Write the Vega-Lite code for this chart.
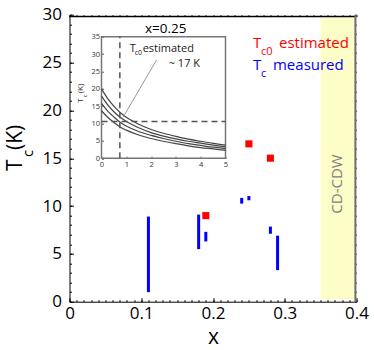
{
  "$schema": "https://vega.github.io/schema/vega-lite/v6.json",
  "width": 287,
  "height": 287,
  "autosize": {"type": "none"},
  "padding": {"left": 69.5, "top": 14.7, "right": 17.5, "bottom": 48.3},
  "background": "white",
  "config": {"view": {"stroke": null}, "font": "Open Sans", "axis": {"grid": false, "labelOverlap": false, "labelFlush": false, "labelBound": false}},
  "layer": [
    {
      "data": {"values": [{"x1": 0.35, "x2": 0.399, "y1": 0.25, "y2": 29.8}]},
      "mark": {"type": "rect", "fill": "#fdfdc8"},
      "encoding": {
        "x": {"field": "x1", "type": "quantitative", "scale": {"domain": [0, 0.4], "nice": false},
          "axis": {"orient": "top", "values": [0,0.01,0.02,0.03,0.04,0.05,0.06,0.07,0.08,0.09,0.1,0.11,0.12,0.13,0.14,0.15,0.16,0.17,0.18,0.19,0.2,0.21,0.22,0.23,0.24,0.25,0.26,0.27,0.28,0.29,0.3,0.31,0.32,0.33,0.34,0.35,0.36,0.37,0.38,0.39,0.4],
            "labels": false, "title": null, "domain": false, "tickColor": "black", "tickSize": -2}},
        "x2": {"field": "x2"},
        "y": {"field": "y1", "type": "quantitative", "scale": {"domain": [0, 30], "nice": false},
          "axis": {"orient": "right", "values": [0,1,2,3,4,5,6,7,8,9,10,11,12,13,14,15,16,17,18,19,20,21,22,23,24,25,26,27,28,29,30],
            "labels": false, "title": null, "domain": false, "tickColor": "#333333", "tickSize": -2}},
        "y2": {"field": "y2"}
      }
    },
    {
      "data": {"values": [
        {"x": 0.2557, "y": 26.52, "t": "T", "s": "est"},
        {"x": 0.292, "y": 26.52, "t": "estimated", "s": "est"},
        {"x": 0.2557, "y": 24.22, "t": "T", "s": "meas"},
        {"x": 0.2836, "y": 24.22, "t": "measured", "s": "meas"}
      ]},
      "mark": {"type": "text", "fontSize": 15, "align": "left", "baseline": "alphabetic"},
      "encoding": {
        "x": {"field": "x", "type": "quantitative", "scale": {"domain": [0, 0.4], "nice": false},
          "axis": {"orient": "bottom", "values": [0,0.01,0.02,0.03,0.04,0.05,0.06,0.07,0.08,0.09,0.1,0.11,0.12,0.13,0.14,0.15,0.16,0.17,0.18,0.19,0.2,0.21,0.22,0.23,0.24,0.25,0.26,0.27,0.28,0.29,0.3,0.31,0.32,0.33,0.34,0.35,0.36,0.37,0.38,0.39,0.4],
            "labels": false, "title": null, "domain": false, "tickColor": "black", "tickSize": -2}},
        "y": {"field": "y", "type": "quantitative", "scale": {"domain": [0, 30], "nice": false},
          "axis": {"orient": "left", "values": [0,1,2,3,4,5,6,7,8,9,10,11,12,13,14,15,16,17,18,19,20,21,22,23,24,25,26,27,28,29,30],
            "labels": false, "title": null, "domain": false, "tickColor": "black", "tickSize": -2}},
        "text": {"field": "t"},
        "color": {"field": "s", "type": "nominal", "scale": {"domain": ["est", "meas"], "range": ["#ff0000", "#0000ff"]}, "legend": null}
      }
    },
    {
      "layer": [
        {
          "data": {"values": [{"x": 0.3735, "y": 12.3, "label": "CD-CDW"}]},
          "mark": {"type": "text", "angle": 270, "fontSize": 15, "color": "#808080", "align": "center", "baseline": "middle"},
          "encoding": {
            "x": {"field": "x", "type": "quantitative", "scale": {"domain": [0, 0.4], "nice": false},
              "axis": {"orient": "bottom", "values": [0, 0.1, 0.2, 0.3, 0.4], "format": ".1~f",
                "labelFontSize": 17, "labelColor": "black", "labelPadding": 8,
                "domainColor": "black", "domainWidth": 1, "tickColor": "black", "tickSize": -4,
                "title": "x", "titleFontSize": 21, "titleFontWeight": "normal", "titleColor": "black", "titlePadding": 5}},
            "y": {"field": "y", "type": "quantitative", "scale": {"domain": [0, 30], "nice": false},
              "axis": {"orient": "left", "values": [0, 5, 10, 15, 20, 25, 30],
                "labelFontSize": 17, "labelColor": "black", "labelPadding": 12,
                "domainColor": "black", "domainWidth": 1, "tickColor": "black", "tickSize": -4,
                "title": null}},
            "text": {"field": "label"}
          }
        },
        {
          "data": {"values": [{"x1": 0, "x2": 0.4, "y": 29.8}]},
          "mark": {"type": "rule", "color": "black", "strokeWidth": 1.5},
          "encoding": {
            "x": {"field": "x1", "type": "quantitative"},
            "x2": {"field": "x2"},
            "y": {"field": "y", "type": "quantitative"}
          }
        },
        {
          "data": {"values": [{"x": 0.3985, "y1": 0, "y2": 30}]},
          "mark": {"type": "rule", "color": "#6e6e6e", "strokeWidth": 2},
          "encoding": {
            "x": {"field": "x", "type": "quantitative"},
            "y": {"field": "y1", "type": "quantitative"},
            "y2": {"field": "y2"}
          }
        },
        {
          "data": {"values": [
            {"x": 0.11, "y1": 1.0, "y2": 8.9},
            {"x": 0.18, "y1": 5.5, "y2": 9.1},
            {"x": 0.19, "y1": 6.3, "y2": 7.3},
            {"x": 0.24, "y1": 10.25, "y2": 10.85},
            {"x": 0.25, "y1": 10.6, "y2": 11.05},
            {"x": 0.28, "y1": 7.1, "y2": 7.85},
            {"x": 0.29, "y1": 3.3, "y2": 6.9}
          ]},
          "mark": {"type": "rule", "color": "#0000ff", "strokeWidth": 3},
          "encoding": {
            "x": {"field": "x", "type": "quantitative"},
            "y": {"field": "y1", "type": "quantitative"},
            "y2": {"field": "y2"}
          }
        },
        {
          "data": {"values": [
            {"x": 0.19, "y": 9.0},
            {"x": 0.25, "y": 16.5},
            {"x": 0.28, "y": 15.0}
          ]},
          "mark": {"type": "point", "shape": "square", "filled": true, "size": 50, "color": "#ff0000", "opacity": 1},
          "encoding": {
            "x": {"field": "x", "type": "quantitative"},
            "y": {"field": "y", "type": "quantitative"}
          }
        },
        {
          "data": {"values": [
            {"x": 0.2669, "y": 25.79, "t": "c0", "s": "est"},
            {"x": 0.2669, "y": 23.5, "t": "c", "s": "meas"}
          ]},
          "mark": {"type": "text", "fontSize": 11, "align": "left", "baseline": "alphabetic"},
          "encoding": {
            "x": {"field": "x", "type": "quantitative"},
            "y": {"field": "y", "type": "quantitative"},
            "text": {"field": "t"},
            "color": {"field": "s", "type": "nominal", "scale": {"domain": ["est", "meas"], "range": ["#ff0000", "#0000ff"]}, "legend": null}
          }
        },
        {
          "data": {"values": [
            {"x": -0.0662, "y": 13.66, "t": "T"},
            {"x": -0.0662, "y": 15.86, "t": "(K)"}
          ]},
          "mark": {"type": "text", "fontSize": 21, "angle": 270, "align": "left", "baseline": "alphabetic", "color": "black"},
          "encoding": {
            "x": {"field": "x", "type": "quantitative"},
            "y": {"field": "y", "type": "quantitative"},
            "text": {"field": "t"}
          }
        },
        {
          "data": {"values": [
            {"x": -0.0509, "y": 15.12, "t": "c"}
          ]},
          "mark": {"type": "text", "fontSize": 15, "angle": 270, "align": "left", "baseline": "alphabetic", "color": "black"},
          "encoding": {
            "x": {"field": "x", "type": "quantitative"},
            "y": {"field": "y", "type": "quantitative"},
            "text": {"field": "t"}
          }
        }
      ]
    },
    {
      "layer": [
        {
          "data": {"values": [{"a": 0, "b": 5, "c": 0, "d": 35}]},
          "mark": {"type": "rect", "filled": false, "stroke": "#777777", "strokeWidth": 1.5},
          "encoding": {
            "x": {"field": "a", "type": "quantitative", "scale": {"domain": [0, 5], "range": [32, 156], "nice": false},
              "axis": {"orient": "bottom", "offset": -143.4, "values": [0,1,2,3,4,5], "format": "d", "domain": false,
                "labelFontSize": 7.5, "labelColor": "#333333", "labelPadding": 4, "tickSize": -2, "tickColor": "#555555",
                "title": null}},
            "x2": {"field": "b"},
            "y": {"field": "c", "type": "quantitative", "scale": {"domain": [0, 35], "range": [143.6, 22], "nice": false},
              "axis": {"orient": "left", "offset": -32, "values": [0,5,10,15,20,25,30,35], "format": "d", "domain": false,
                "labelFontSize": 7.5, "labelColor": "#333333", "labelPadding": 4, "tickSize": -2, "tickColor": "#555555",
                "title": null}},
            "y2": {"field": "d"}
          }
        },
        {
          "data": {"values": [
            {"k": "A", "yp": 0, "t": 20}, {"k": "A", "yp": 0.25, "t": 17.2}, {"k": "A", "yp": 0.5, "t": 15.0}, {"k": "A", "yp": 0.75, "t": 13.2}, {"k": "A", "yp": 1, "t": 11.8}, {"k": "A", "yp": 1.5, "t": 9.8}, {"k": "A", "yp": 2, "t": 8.3}, {"k": "A", "yp": 2.5, "t": 7.2}, {"k": "A", "yp": 3, "t": 6.3}, {"k": "A", "yp": 3.5, "t": 5.5}, {"k": "A", "yp": 4, "t": 4.9}, {"k": "A", "yp": 4.5, "t": 4.3}, {"k": "A", "yp": 5, "t": 3.8},
            {"k": "B", "yp": 0, "t": 17.9}, {"k": "B", "yp": 0.25, "t": 15.4}, {"k": "B", "yp": 0.5, "t": 13.4}, {"k": "B", "yp": 0.75, "t": 11.8}, {"k": "B", "yp": 1, "t": 10.6}, {"k": "B", "yp": 1.5, "t": 8.8}, {"k": "B", "yp": 2, "t": 7.4}, {"k": "B", "yp": 2.5, "t": 6.4}, {"k": "B", "yp": 3, "t": 5.6}, {"k": "B", "yp": 3.5, "t": 4.9}, {"k": "B", "yp": 4, "t": 4.35}, {"k": "B", "yp": 4.5, "t": 3.8}, {"k": "B", "yp": 5, "t": 3.3},
            {"k": "C", "yp": 0, "t": 15.8}, {"k": "C", "yp": 0.25, "t": 13.6}, {"k": "C", "yp": 0.5, "t": 11.9}, {"k": "C", "yp": 0.75, "t": 10.4}, {"k": "C", "yp": 1, "t": 9.3}, {"k": "C", "yp": 1.5, "t": 7.7}, {"k": "C", "yp": 2, "t": 6.6}, {"k": "C", "yp": 2.5, "t": 5.7}, {"k": "C", "yp": 3, "t": 4.9}, {"k": "C", "yp": 3.5, "t": 4.2}, {"k": "C", "yp": 4, "t": 3.7}, {"k": "C", "yp": 4.5, "t": 3.2}, {"k": "C", "yp": 5, "t": 2.8},
            {"k": "D", "yp": 0, "t": 13.7}, {"k": "D", "yp": 0.25, "t": 11.8}, {"k": "D", "yp": 0.5, "t": 10.3}, {"k": "D", "yp": 0.75, "t": 9.0}, {"k": "D", "yp": 1, "t": 8.1}, {"k": "D", "yp": 1.5, "t": 6.7}, {"k": "D", "yp": 2, "t": 5.7}, {"k": "D", "yp": 2.5, "t": 4.9}, {"k": "D", "yp": 3, "t": 4.2}, {"k": "D", "yp": 3.5, "t": 3.6}, {"k": "D", "yp": 4, "t": 3.1}, {"k": "D", "yp": 4.5, "t": 2.7}, {"k": "D", "yp": 5, "t": 2.3}
          ]},
          "mark": {"type": "line", "color": "#444444", "strokeWidth": 1.2, "interpolate": "monotone"},
          "encoding": {
            "x": {"field": "yp", "type": "quantitative"},
            "y": {"field": "t", "type": "quantitative"},
            "detail": {"field": "k"}
          }
        },
        {
          "data": {"values": [
            {"x": 0, "x2": 5, "y": 10.6, "y2": 10.6},
            {"x": 0.74, "x2": 0.74, "y": 0, "y2": 35}
          ]},
          "mark": {"type": "rule", "color": "#555555", "strokeWidth": 1.5, "strokeDash": [6, 4]},
          "encoding": {
            "x": {"field": "x", "type": "quantitative"},
            "x2": {"field": "x2"},
            "y": {"field": "y", "type": "quantitative"},
            "y2": {"field": "y2"}
          }
        },
        {
          "data": {"values": [{"x": 0.87, "x2": 2.22, "y": 11.8, "y2": 28.3}]},
          "mark": {"type": "rule", "color": "#999999", "strokeWidth": 1},
          "encoding": {
            "x": {"field": "x", "type": "quantitative"},
            "x2": {"field": "x2"},
            "y": {"field": "y", "type": "quantitative"},
            "y2": {"field": "y2"}
          }
        },
        {
          "data": {"values": [
            {"x": 1.14, "y": 30.6, "t": "T"},
            {"x": 1.66, "y": 30.6, "t": "estimated"},
            {"x": 2.71, "y": 26.4, "t": "~ 17 K"}
          ]},
          "mark": {"type": "text", "fontSize": 11, "align": "left", "baseline": "alphabetic", "color": "#222222"},
          "encoding": {
            "x": {"field": "x", "type": "quantitative"},
            "y": {"field": "y", "type": "quantitative"},
            "text": {"field": "t"}
          }
        },
        {
          "data": {"values": [{"x": 1.34, "y": 29.6, "t": "c0"}]},
          "mark": {"type": "text", "fontSize": 7, "align": "left", "baseline": "alphabetic", "color": "#222222"},
          "encoding": {
            "x": {"field": "x", "type": "quantitative"},
            "y": {"field": "y", "type": "quantitative"},
            "text": {"field": "t"}
          }
        },
        {
          "data": {"values": [{"x": 2.59, "y": 36.05, "t": "x=0.25"}]},
          "mark": {"type": "text", "fontSize": 13.5, "align": "center", "baseline": "alphabetic", "color": "black"},
          "encoding": {
            "x": {"field": "x", "type": "quantitative"},
            "y": {"field": "y", "type": "quantitative"},
            "text": {"field": "t"}
          }
        },
        {
          "data": {"values": [
            {"x": -0.73, "y": 16.0, "t": "T"},
            {"x": -0.73, "y": 18.7, "t": "(K)"}
          ]},
          "mark": {"type": "text", "fontSize": 8, "angle": 270, "align": "left", "baseline": "alphabetic", "color": "#333333"},
          "encoding": {
            "x": {"field": "x", "type": "quantitative"},
            "y": {"field": "y", "type": "quantitative"},
            "text": {"field": "t"}
          }
        },
        {
          "data": {"values": [{"x": -0.6, "y": 17.6, "t": "c"}]},
          "mark": {"type": "text", "fontSize": 6, "angle": 270, "align": "left", "baseline": "alphabetic", "color": "#333333"},
          "encoding": {
            "x": {"field": "x", "type": "quantitative"},
            "y": {"field": "y", "type": "quantitative"},
            "text": {"field": "t"}
          }
        }
      ]
    }
  ],
  "resolve": {"scale": {"x": "independent", "y": "independent", "color": "independent"}}
}
